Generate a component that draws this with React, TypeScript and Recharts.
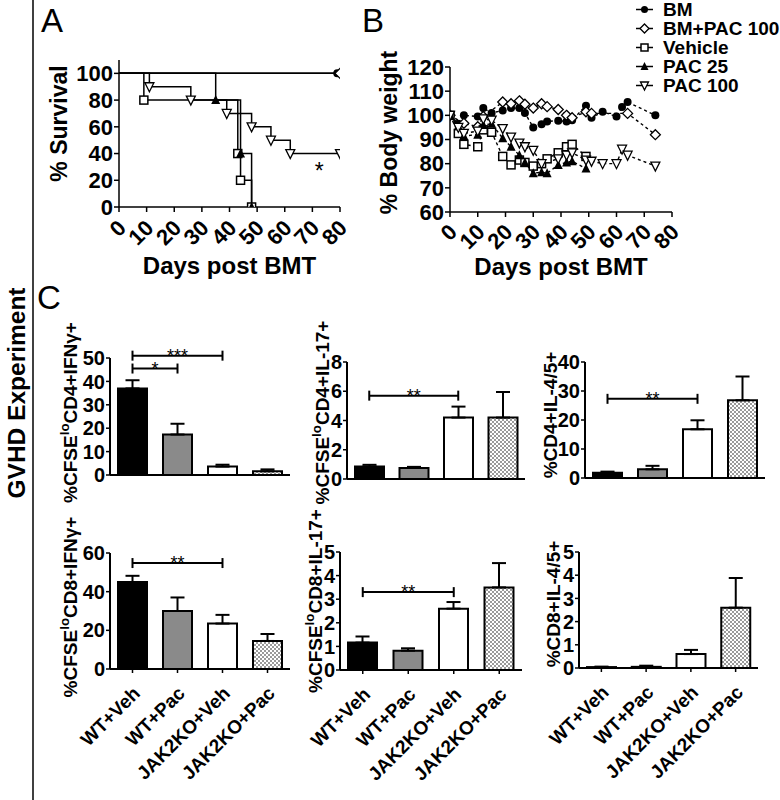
import React from 'react';
import {
  LineChart, Line, XAxis, YAxis, BarChart, Bar, Cell, ErrorBar,
  ReferenceLine, ReferenceDot, Legend,
} from 'recharts';

const FONT = '"Liberation Sans", Arial, Helvetica, sans-serif';

// ---------- Panel A: survival (Kaplan-Meier) ----------
const survTicksX = [0, 10, 20, 30, 40, 50, 60, 70, 80];
const survTicksY = [0, 20, 40, 60, 80, 100];
const bmSurvDays = [0, 79];
const bmSurv = [100, 100];
const bmPacSurvDays = [0, 80];
const bmPacSurv = [100, 100];
const vehSurvDays = [0, 9, 43, 44, 48];
const vehSurv = [100, 80, 40, 20, 0];
const pac25SurvDays = [0, 35, 44, 48];
const pac25Surv = [100, 80, 40, 0];
const pac100SurvDays = [0, 11, 26, 39, 48, 55, 62, 80];
const pac100Surv = [100, 90, 80, 70, 60, 50, 40, 40];

// ---------- Panel B: body weight ----------
const bwTicksX = [0, 10, 20, 30, 40, 50, 60, 70, 80];
const bwTicksY = [60, 70, 80, 90, 100, 110, 120];
const bwBMDays = [0, 3, 5, 10, 12, 15, 19, 22, 25, 27, 30, 33, 35, 39, 42, 44, 49, 51, 55, 60, 62, 64, 74];
const bwBM = [100, 96.5, 100, 99.5, 103, 101, 102, 103, 103, 101, 95, 96.3, 97.5, 97.8, 97.5, 98, 104, 99, 101.5, 99.5, 103.5, 105.5, 100];
const bwBMPacDays = [0, 5, 10, 12, 19, 22, 25, 27, 30, 33, 35, 39, 42, 44, 49, 51, 64, 74];
const bwBMPac = [100, 96.7, 95.3, 99.5, 105.5, 104.8, 106, 104.6, 103, 104.8, 103.6, 102.4, 100, 99, 101.5, 100.8, 100.8, 92];
const bwVehDays = [0, 3, 5, 10, 12, 15, 19, 22, 25, 27, 30, 33, 35, 39, 42, 44, 49];
const bwVeh = [100, 92.5, 88, 87, 94, 93, 83, 79.5, 81.5, 80.5, 79, 80, 82, 84.5, 87, 88, 83];
const bwPac25Days = [0, 3, 5, 10, 12, 15, 19, 22, 25, 27, 30, 33, 35, 39, 42, 44, 49];
const bwPac25 = [100, 95.5, 91.5, 92, 96, 96.5, 90.5, 87, 83.5, 80.5, 76, 76.5, 76, 79.5, 80.5, 81, 78];
const bwPac100Days = [0, 3, 5, 10, 12, 15, 19, 22, 25, 27, 30, 33, 39, 42, 44, 49, 51, 55, 60, 62, 64, 74];
const bwPac100 = [100, 95, 92.5, 93.5, 98.5, 98, 94.5, 91, 88.5, 87, 85.5, 80, 82, 83.5, 84.5, 81.5, 81, 80, 80, 86, 83.5, 79];

// ---------- Panel C: bar charts ----------
const groups = ['WT+Veh', 'WT+Pac', 'JAK2KO+Veh', 'JAK2KO+Pac'];
const cd4IfngMean = [37, 17.3, 3.6, 1.6];
const cd4IfngSem = [3.5, 4.6, 0.8, 0.8];
const cd4Il17Mean = [0.85, 0.75, 4.2, 4.2];
const cd4Il17Sem = [0.12, 0.08, 0.75, 1.75];
const cd4Il45Mean = [1.8, 3.0, 16.8, 26.8];
const cd4Il45Sem = [0.4, 1.2, 3.1, 8.2];
const cd8IfngMean = [45, 30, 23.5, 14.5];
const cd8IfngSem = [3.2, 7, 4.5, 3.6];
const cd8Il17Mean = [1.16, 0.82, 2.6, 3.5];
const cd8Il17Sem = [0.26, 0.1, 0.28, 1.03];
const cd8Il45Mean = [0.04, 0.05, 0.6, 2.6];
const cd8Il45Sem = [0.02, 0.05, 0.18, 1.28];

const barFills = ['#000', '#8a8a8a', '#fff', 'url(#checker)'];

// ---------- helpers ----------
function Marker({ kind, cx, cy, size }: any) {
  const h = size / 2;
  if (kind === 'circle') return <circle cx={cx} cy={cy} r={h} fill="#000" />;
  if (kind === 'diamond')
    return <polygon points={`${cx},${cy - h - 1} ${cx + h + 1},${cy} ${cx},${cy + h + 1} ${cx - h - 1},${cy}`} fill="#fff" stroke="#000" strokeWidth={1.3} />;
  if (kind === 'square')
    return <rect x={cx - h} y={cy - h} width={size} height={size} fill="#fff" stroke="#000" strokeWidth={1.5} />;
  if (kind === 'triangle')
    return <polygon points={`${cx},${cy - h - 1} ${cx + h + 0.5},${cy + h} ${cx - h - 0.5},${cy + h}`} fill="#000" />;
  return <polygon points={`${cx - h - 0.5},${cy - h} ${cx + h + 0.5},${cy - h} ${cx},${cy + h + 1}`} fill="#fff" stroke="#000" strokeWidth={1.3} />;
}

const toPts = (days: number[], vals: number[]) => days.map((d, i) => ({ day: d, v: vals[i] }));

const survSeries = [
  { name: 'BM', kind: 'circle', data: toPts(bmSurvDays, bmSurv) },
  { name: 'BM+PAC 100', kind: 'diamond', data: toPts(bmPacSurvDays, bmPacSurv) },
  { name: 'Vehicle', kind: 'square', data: toPts(vehSurvDays, vehSurv) },
  { name: 'PAC 25', kind: 'triangle', data: toPts(pac25SurvDays, pac25Surv) },
  { name: 'PAC 100', kind: 'invtriangle', data: toPts(pac100SurvDays, pac100Surv) },
];

const bwSeries = [
  { name: 'BM', kind: 'circle', data: toPts(bwBMDays, bwBM) },
  { name: 'BM+PAC 100', kind: 'diamond', data: toPts(bwBMPacDays, bwBMPac) },
  { name: 'Vehicle', kind: 'square', data: toPts(bwVehDays, bwVeh) },
  { name: 'PAC 25', kind: 'triangle', data: toPts(bwPac25Days, bwPac25) },
  { name: 'PAC 100', kind: 'invtriangle', data: toPts(bwPac100Days, bwPac100) },
];

const RotTick = (props: any) => {
  const { x, y, payload, fs = 22, ox = 3, oy = 10 } = props;
  const ax = x + ox;
  const ay = y + oy;
  return (
    <text x={ax} y={ay} transform={`rotate(-45, ${ax}, ${ay})`} textAnchor="end" dominantBaseline="central"
      fontSize={fs} fontWeight="bold" fontFamily={FONT} fill="#000">
      {payload.value}
    </text>
  );
};

const XLab = (props: any) => {
  const { viewBox, text, oy } = props;
  return (
    <text x={viewBox.x + viewBox.width / 2} y={viewBox.y + oy} textAnchor="middle" fontSize={24}
      fontWeight="bold" fontFamily={FONT} fill="#000">{text}</text>
  );
};

const YLab = (props: any) => {
  const { viewBox, parts, fromAxis, fs = 19, shift = -4 } = props;
  const cx = viewBox.x + viewBox.width - fromAxis;
  const cy = viewBox.y + viewBox.height / 2 + shift;
  return (
    <text x={cx} y={cy} transform={`rotate(-90, ${cx}, ${cy})`} textAnchor="middle" dominantBaseline="central"
      fontSize={fs} fontWeight="bold" fontFamily={FONT} fill="#000">
      {parts.length === 1
        ? parts[0]
        : [
            <tspan key="a">{parts[0]}</tspan>,
            <tspan key="b" dy={-6} fontSize={fs * 0.7}>{parts[1]}</tspan>,
            <tspan key="c" dy={6}>{parts[2]}</tspan>,
          ]}
    </text>
  );
};

const Bracket = (props: any) => {
  const { x1, y1, x2, y2, stars } = props;
  return (
    <g>
      <line x1={x1} y1={y1} x2={x2} y2={y2} stroke="#000" strokeWidth={2} />
      <line x1={x1} y1={y1 - 5} x2={x1} y2={y1 + 5} stroke="#000" strokeWidth={2} />
      <line x1={x2} y1={y2 - 5} x2={x2} y2={y2 + 5} stroke="#000" strokeWidth={2} />
      <text x={(x1 + x2) / 2} y={y1 + 6} textAnchor="middle" fontSize={18} fontFamily={FONT} fill="#000">{stars}</text>
    </g>
  );
};

const axisStyle = { stroke: '#000', strokeWidth: 1.5 };
const barAxisStyle = { stroke: '#000', strokeWidth: 2 };

function SurvivalPanel() {
  return (
    <LineChart width={330} height={290} margin={{ top: 60, right: 25, bottom: 0, left: 0 }}>
      <XAxis type="number" dataKey="day" domain={[0, 80]} ticks={survTicksX} interval={0} height={83}
        allowDataOverflow axisLine={axisStyle} tickLine={axisStyle} tickSize={5}
        tick={<RotTick fs={22} ox={3} oy={10} />}
        label={<XLab text="Days post BMT" oy={67} />} />
      <YAxis type="number" domain={[0, 110]} ticks={survTicksY} interval={0} width={84} allowDataOverflow
        axisLine={axisStyle} tickLine={axisStyle} tickSize={5} tickMargin={1}
        tick={{ fill: '#000', fontSize: 22, fontWeight: 'bold', fontFamily: FONT }}
        label={<YLab parts={['% Survival']} fromAxis={60} fs={23} shift={-10} />} />
      {survSeries.map((s) => (
        <Line key={s.name} name={s.name} data={s.data} dataKey="v" type="stepAfter" stroke="#000"
          strokeWidth={1.5} activeDot={false} isAnimationActive={false}
          dot={(p: any) =>
            p.index === 0 ? <g key={`${s.name}-${p.index}`} /> : (
              <g key={`${s.name}-${p.index}`}><Marker kind={s.kind} cx={p.cx} cy={p.cy} size={8} /></g>
            )} />
      ))}
      <ReferenceDot x={72.5} y={30} r={0} ifOverflow="visible"
        shape={(p: any) => (
          <text x={p.cx} y={p.cy + 12} textAnchor="middle" fontSize={23} fontFamily={FONT} fill="#000">*</text>
        )} />
    </LineChart>
  );
}

const BwLegend = () => (
  <div style={{ fontFamily: FONT, fontWeight: 'bold', fontSize: 19, color: '#000' }}>
    {bwSeries.map((s) => (
      <div key={s.name} style={{ display: 'flex', alignItems: 'center', height: 19, whiteSpace: 'nowrap' }}>
        <svg width={17} height={19}>
          <line x1={0} y1={9.5} x2={17} y2={9.5} stroke="#000" strokeWidth={1.5} />
          <Marker kind={s.kind} cx={8.5} cy={9.5} size={7} />
        </svg>
        <span style={{ marginLeft: 10, lineHeight: '19px' }}>{s.name}</span>
      </div>
    ))}
  </div>
);

function BodyWeightPanel() {
  return (
    <LineChart width={410} height={292} margin={{ top: 67, right: 108, bottom: 0, left: 0 }}>
      <XAxis type="number" dataKey="day" domain={[0, 80]} ticks={bwTicksX} interval={0} height={80}
        allowDataOverflow axisLine={axisStyle} tickLine={axisStyle} tickSize={5}
        tick={<RotTick fs={22} ox={3} oy={9} />}
        label={<XLab text="Days post BMT" oy={63} />} />
      <YAxis type="number" domain={[60, 120]} ticks={bwTicksY} interval={0} width={80} allowDataOverflow
        axisLine={axisStyle} tickLine={axisStyle} tickSize={5} tickMargin={1}
        tick={{ fill: '#000', fontSize: 22, fontWeight: 'bold', fontFamily: FONT }}
        label={<YLab parts={['% Body weight']} fromAxis={61} fs={23} shift={-7} />} />
      {bwSeries.map((s) => (
        <Line key={s.name} name={s.name} data={s.data} dataKey="v" type="linear" stroke="#000"
          strokeWidth={1.4} strokeDasharray="3 3" activeDot={false} isAnimationActive={false}
          dot={(p: any) => (
            <g key={`${s.name}-${p.index}`}><Marker kind={s.kind} cx={p.cx} cy={p.cy} size={8} /></g>
          )} />
      ))}
      <Legend content={<BwLegend />} layout="vertical" align="center" verticalAlign="middle"
        wrapperStyle={{ position: 'absolute', left: 266, top: 0, width: 144, height: 100 }} />
    </LineChart>
  );
}

const CatTick = (props: any) => {
  const { x, y, payload } = props;
  const ax = x + 4;
  const ay = y + 15;
  return (
    <text x={ax} y={ay} transform={`rotate(-45, ${ax}, ${ay})`} textAnchor="end" dominantBaseline="central"
      fontSize={19} fontWeight="bold" fontFamily={FONT} fill="#000">
      {payload.value}
    </text>
  );
};

function BarPanel(props: any) {
  const { means, sems, domain, ticks, label, brackets, showLabels, left, plotTop, plotH, width, yWidth, labelFromAxis, shift } = props;
  const data = groups.map((g, i) => ({ group: g, mean: means[i], err: [0, sems[i]] }));
  const mTop = 75;
  const xH = showLabels ? 125 : 8;
  const mBottom = showLabels ? 0 : 40;
  const height = mTop + plotH + xH + mBottom;
  return (
    <div style={{ position: 'absolute', left, top: plotTop - mTop }}>
      <BarChart width={width} height={height} data={data} margin={{ top: mTop, right: 5, left: 0, bottom: mBottom }}>
        <XAxis dataKey="group" type="category" interval={0} height={xH}
          axisLine={barAxisStyle} tickLine={axisStyle} tickSize={4}
          tick={showLabels ? <CatTick /> : false} />
        <YAxis type="number" domain={domain} ticks={ticks} interval={0} width={yWidth} allowDataOverflow
          axisLine={barAxisStyle} tickLine={axisStyle} tickSize={4} tickMargin={1}
          tick={{ fill: '#000', fontSize: 20, fontWeight: 'bold', fontFamily: FONT }}
          label={<YLab parts={label} fromAxis={labelFromAxis} shift={shift} />} />
        <Bar dataKey="mean" barSize={29} stroke="#000" strokeWidth={2} isAnimationActive={false}>
          {data.map((d, i) => <Cell key={d.group} fill={barFills[i]} />)}
          <ErrorBar dataKey="err" width={7} stroke="#000" strokeWidth={2} direction="y" />
        </Bar>
        {brackets.map((b: any, i: number) => (
          <ReferenceLine key={i} ifOverflow="visible"
            segment={[{ x: groups[b.from], y: b.y }, { x: groups[b.to], y: b.y }]}
            shape={(p: any) => <Bracket {...p} stars={b.stars} />} />
        ))}
      </BarChart>
    </div>
  );
}

export default function App() {
  return (
    <div style={{ position: 'absolute', left: 0, top: 0, width: 780, height: 800, background: '#fff', fontFamily: FONT }}>
      <svg style={{ position: 'absolute', left: 0, top: 0 }} width={780} height={800}>
        <defs>
          <pattern id="checker" width={4} height={4} patternUnits="userSpaceOnUse">
            <rect width={4} height={4} fill="#fff" />
            <rect width={2} height={2} fill="#9a9a9a" />
            <rect x={2} y={2} width={2} height={2} fill="#9a9a9a" />
          </pattern>
        </defs>
        <line x1={33} y1={0} x2={33} y2={800} stroke="#000" strokeWidth={1.5} />
        <text x={16} y={393} transform="rotate(-90, 16, 393)" textAnchor="middle" dominantBaseline="central"
          fontSize={24.5} fontWeight="bold" fontFamily={FONT} fill="#000">GVHD Experiment</text>
        <text x={41} y={32} fontSize={33} fontFamily={FONT} fill="#000">A</text>
        <text x={362} y={32} fontSize={33} fontFamily={FONT} fill="#000">B</text>
        <text x={37} y={309} fontSize={33} fontFamily={FONT} fill="#000">C</text>
      </svg>

      <div style={{ position: 'absolute', left: 35, top: 0 }}>
        <SurvivalPanel />
      </div>
      <div style={{ position: 'absolute', left: 370, top: 0 }}>
        <BodyWeightPanel />
      </div>

      <BarPanel means={cd4IfngMean} sems={cd4IfngSem} domain={[0, 50]} ticks={[0, 10, 20, 30, 40, 50]}
        label={['%CFSE', 'lo', 'CD4+IFNγ+']} labelFromAxis={40} shift={-4}
        brackets={[{ from: 0, to: 1, y: 45.5, stars: '*' }, { from: 0, to: 2, y: 51, stars: '***' }]}
        showLabels={false} left={40} plotTop={358} plotH={117} width={255} yWidth={70} />
      <BarPanel means={cd4Il17Mean} sems={cd4Il17Sem} domain={[0, 8]} ticks={[0, 2, 4, 6, 8]}
        label={['%CFSE', 'lo', 'CD4+IL-17+']} labelFromAxis={25} shift={-8}
        brackets={[{ from: 0, to: 2, y: 5.7, stars: '**' }]}
        showLabels={false} left={290} plotTop={362} plotH={117} width={240} yWidth={57} />
      <BarPanel means={cd4Il45Mean} sems={cd4Il45Sem} domain={[0, 40]} ticks={[0, 10, 20, 30, 40]}
        label={['%CD4+IL-4/5+']} labelFromAxis={35} shift={-5}
        brackets={[{ from: 0, to: 2, y: 27.3, stars: '**' }]}
        showLabels={false} left={530} plotTop={362} plotH={116} width={240} yWidth={55} />

      <BarPanel means={cd8IfngMean} sems={cd8IfngSem} domain={[0, 60]} ticks={[0, 20, 40, 60]}
        label={['%CFSE', 'lo', 'CD8+IFNγ+']} labelFromAxis={40} shift={-4}
        brackets={[{ from: 0, to: 2, y: 54.8, stars: '**' }]}
        showLabels left={40} plotTop={553} plotH={116} width={255} yWidth={70} />
      <BarPanel means={cd8Il17Mean} sems={cd8Il17Sem} domain={[0, 5]} ticks={[0, 1, 2, 3, 4, 5]}
        label={['%CFSE', 'lo', 'CD8+IL-17+']} labelFromAxis={25} shift={-10}
        brackets={[{ from: 0, to: 2, y: 3.3, stars: '**' }]}
        showLabels left={290} plotTop={552} plotH={118} width={237} yWidth={50} />
      <BarPanel means={cd8Il45Mean} sems={cd8Il45Sem} domain={[0, 5]} ticks={[0, 1, 2, 3, 4, 5]}
        label={['%CD8+IL-4/5+']} labelFromAxis={26} shift={-6}
        brackets={[]}
        showLabels left={530} plotTop={552} plotH={116} width={233} yWidth={49} />
    </div>
  );
}
